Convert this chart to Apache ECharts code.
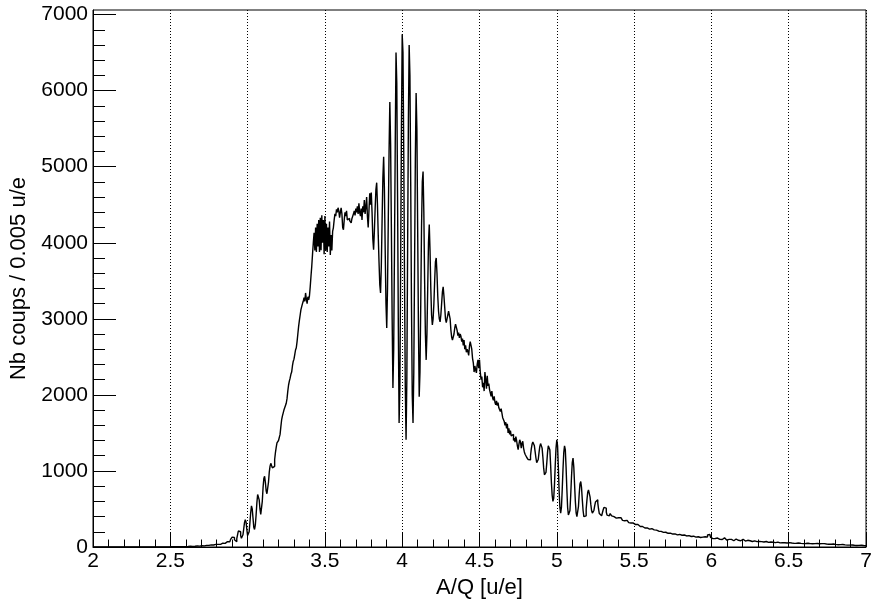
<!DOCTYPE html>
<html>
<head>
<meta charset="utf-8">
<script src="https://cdn.jsdelivr.net/npm/echarts@6/dist/echarts.min.js"></script>
<style>
html,body{margin:0;padding:0;background:#ffffff;}
#chart{width:872px;height:604px;}
</style>
</head>
<body>
<div id="chart"></div>
<script>
// Histogram: counts per 0.005 u/e bin, A/Q from 2 to 7
const binWidth = 0.005;

// 2.000 - 2.795
const countsLow = [
0,0,0,0,0,0,0,0,0,0,0,0,0,0,0,0,0,0,0,0,
0,0,0,0,0,0,1,0,0,0,0,0,0,0,0,1,0,0,0,0,
0,0,0,1,0,0,0,0,1,0,0,0,0,0,1,0,0,0,1,0,
0,1,0,0,1,0,0,1,0,1,0,0,1,0,1,0,1,0,0,1,
1,0,1,1,0,2,1,0,1,2,1,1,2,0,1,2,1,2,1,2,
2,3,1,2,3,2,4,3,2,4,3,5,3,4,5,3,5,4,6,5,
5,7,6,8,6,9,7,10,8,9,11,9,12,10,13,11,14,12,15,13,
16,14,18,15,20,17,22,19,24,21,26,23,28,25,30,27,32,29,34,31
];

// 2.800 - 3.795
const countsRise = [
30,35,28,40,35,45,38,50,42,55,48,60,52,70,60,75,70,85,100,115,
130,140,125,95,75,70,110,160,210,230,200,150,115,110,160,240,320,360,330,230,
150,140,200,320,450,540,500,380,260,230,290,420,580,690,700,620,500,430,450,600,
780,900,930,850,740,700,720,850,980,1060,1100,1090,1040,1020,1060,1150,1240,1310,1370,1380,
1400,1390,1480,1580,1670,1720,1760,1800,1830,1860,1890,1950,2050,2130,2180,2220,2270,2300,2380,2440,
2470,2530,2590,2620,2700,2800,2900,2980,3050,3120,3160,3200,3230,3280,3230,3340,3260,3200,3290,3250,
3300,3420,3560,3690,3850,4000,4130,3900,4200,3880,4250,3950,4300,3880,4330,3900,4360,4000,4300,3850,
4350,3900,4250,3880,4200,3950,4280,3840,4100,3900,4150,4200,4300,4380,4350,4440,4400,4460,4420,4330,
4400,4460,4380,4200,4170,4300,4400,4350,4420,4300,4280,4320,4290,4300,4260,4320,4300,4380,4420,4360,
4450,4400,4480,4380,4520,4400,4350,4450,4300,4480,4400,4560,4380,4470,4600,4350,4200,4420,4650,4500
];

// 3.800 - 4.495
const countsPeak = [
4660,4400,4050,3910,4150,4450,4700,4790,4500,4100,3750,3450,3340,3700,4300,4850,5130,4700,3900,3200,
2880,3400,4300,5200,5850,5300,4200,3000,2090,2600,3900,5300,6500,6100,4600,2900,1630,2100,3700,5500,
6740,6500,5200,3500,2100,1410,2200,3900,5600,6600,6200,4800,3200,2000,1630,2300,3700,5100,5970,5500,
4200,2900,1975,2300,3200,4200,4800,4935,4400,3500,2800,2460,2800,3400,4000,4240,3900,3400,3050,2920,
3000,3200,3500,3750,3800,3600,3300,3100,3000,2960,3050,3200,3350,3420,3300,3150,3000,2950,3000,3050,
3100,3120,3000,2850,2760,2720,2700,2800,2880,2930,2950,2850,2780,2820,2750,2800,2770,2700,2740,2650,
2720,2600,2650,2560,2600,2570,2520,2640,2700,2720,2600,2480,2420,2300,2380,2330,2290,2400,2460,2350
];

// 4.500 - 5.395
const countsShoulder = [
2460,2300,2200,2240,2100,2160,2050,2300,2200,2080,2250,2120,2150,2070,2080,1980,2050,1960,1930,1980,
1900,1870,1920,1860,1900,1830,1850,1780,1820,1760,1700,1720,1650,1600,1640,1560,1620,1500,1560,1480,
1530,1460,1450,1480,1400,1430,1380,1450,1400,1330,1280,1350,1410,1380,1300,1360,1390,1300,1250,1220,
1200,1180,1170,1150,1160,1145,1200,1290,1350,1380,1385,1330,1250,1170,1110,1100,1150,1240,1320,1360,
1365,1300,1180,1040,950,925,980,1100,1240,1330,1355,1280,1080,850,680,600,640,820,1080,1300,
1410,1330,1050,740,520,445,520,750,1020,1240,1330,1280,1050,760,520,420,400,480,680,920,
1110,1170,1050,820,600,450,400,420,530,700,830,860,780,620,480,400,380,410,500,620,
720,750,740,660,560,480,445,450,480,540,590,615,620,580,500,440,415,410,420,450,
490,520,530,510,460,420,400,410,430,440,420,410,430,400,390,400,380,395,370,385
];

// 5.400 - 6.995
const countsTail = [
390,370,385,360,375,350,365,345,355,335,350,330,340,320,330,315,320,305,315,300,
310,295,300,285,295,280,285,270,280,265,270,258,265,250,258,245,250,240,248,235,
245,235,240,228,232,225,230,218,222,212,218,208,212,200,205,198,202,192,196,188,
194,185,190,180,186,176,182,172,178,170,175,168,172,165,170,160,168,158,165,155,
162,155,160,150,158,148,155,145,152,142,150,140,148,138,145,135,142,132,140,130,
138,128,135,140,130,125,132,122,130,120,128,135,125,120,130,160,180,165,140,125,
120,110,115,105,112,125,130,118,105,98,100,95,92,98,105,115,120,110,98,90,
88,92,100,110,112,100,90,85,82,88,95,105,108,98,88,80,78,82,90,98,
102,95,85,78,74,80,88,95,90,82,75,70,72,78,85,80,72,68,70,75,
80,74,68,65,70,76,72,66,62,68,72,68,62,60,64,70,66,60,58,62,
66,62,58,55,60,64,60,56,54,58,62,58,54,52,56,60,56,52,50,54,
58,54,50,52,56,52,48,50,54,50,47,50,53,49,46,48,52,48,45,47,
50,46,44,47,50,46,43,45,48,44,42,45,48,44,41,43,46,42,40,43,
46,48,44,40,42,45,41,38,40,43,39,36,38,41,37,34,36,39,35,32,
34,37,33,30,32,35,31,28,30,33,29,26,28,31,27,25,27,29,25,23,
25,27,23,21,23,25,22,20,22,24,21,19,21,23,19,17,19,21,18,16
];

const segments = [
  {start: 2.0, counts: countsLow},
  {start: 2.8, counts: countsRise},
  {start: 3.8, counts: countsPeak},
  {start: 4.5, counts: countsShoulder},
  {start: 5.4, counts: countsTail}
];

const xMin = 2, xMax = 7;
const yMin = 0, yMax = 7060;
const yMajorTicks = [0,1000,2000,3000,4000,5000,6000,7000];
const yMinorTicks = [200,400,600,800,1200,1400,1600,1800,2200,2400,2600,2800,3200,3400,3600,3800,
                     4200,4400,4600,4800,5200,5400,5600,5800,6200,6400,6600,6800];

const xTitle = 'A/Q [u/e]';
const yTitle = 'Nb coups / 0.005 u/e';

// build step data (bin low edges)
const histData = [];
segments.forEach(seg => {
  seg.counts.forEach((v, j) => {
    const x = Math.round((seg.start + j * binWidth) * 10000) / 10000;
    histData.push([x, v]);
  });
});
histData.push([xMax, histData[histData.length - 1][1]]);

const FONT = 'Liberation Sans, Arial, Helvetica, sans-serif';
const plain = v => String(v);
const chart = echarts.init(document.getElementById('chart'), null, {renderer: 'canvas'});
chart.setOption({
  animation: false,
  backgroundColor: '#ffffff',
  grid: {left: 93, right: 6, top: 10, bottom: 57, containLabel: false, outerBoundsMode: 'none',
         show: true, borderColor: '#000', borderWidth: 1, backgroundColor: 'transparent'},
  xAxis: {
    type: 'value', min: xMin, max: xMax, interval: 0.5,
    name: xTitle, nameLocation: 'middle', nameGap: 29,
    nameTextStyle: {fontFamily: FONT, fontSize: 22, color: '#000'},
    axisLine: {show: true, lineStyle: {color: '#000', width: 1}},
    axisTick: {show: true, inside: true, length: 15, lineStyle: {color: '#000', width: 1}},
    minorTick: {show: true, splitNumber: 5, length: 7.5, lineStyle: {color: '#000', width: 1}},
    axisLabel: {fontFamily: FONT, fontSize: 21, color: '#000', margin: 4, formatter: plain},
    splitLine: {show: true, lineStyle: {color: '#000', width: 1, type: [1, 2]}}
  },
  yAxis: [
    {
      type: 'value', min: yMin, max: yMax, position: 'left',
      name: yTitle, nameLocation: 'middle', nameGap: 63,
      nameTextStyle: {fontFamily: FONT, fontSize: 22, color: '#000'},
      axisLine: {show: true, lineStyle: {color: '#000', width: 1}},
      axisTick: {show: true, inside: true, length: 23, customValues: yMajorTicks, lineStyle: {color: '#000', width: 1}},
      axisLabel: {fontFamily: FONT, fontSize: 21, color: '#000', margin: 5, customValues: yMajorTicks, formatter: plain},
      splitLine: {show: false}
    },
    {
      type: 'value', min: yMin, max: yMax, position: 'left', offset: 0,
      axisLine: {show: false},
      axisTick: {show: true, inside: true, length: 12, customValues: yMinorTicks, lineStyle: {color: '#000', width: 1}},
      axisLabel: {show: false},
      splitLine: {show: false}
    }
  ],
  series: [{
    type: 'line', step: 'end', data: histData, yAxisIndex: 0,
    showSymbol: false, symbol: 'none', silent: true,
    lineStyle: {color: '#000', width: 1.4}
  }]
});
</script>
</body>
</html>
